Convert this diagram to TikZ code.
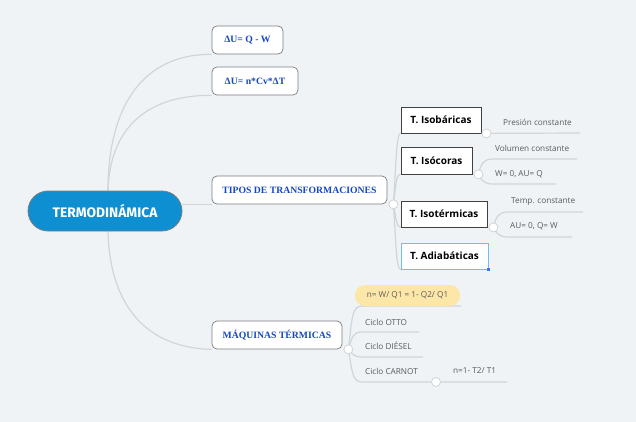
\documentclass[tikz,border=0pt]{standalone}
\usepackage{fontspec}
\setmainfont{Liberation Serif}
\newfontfamily\opensans{Open Sans}
\newfontfamily\firafont{Fira Sans}
\definecolor{bgc}{RGB}{239,243,246}
\definecolor{lnk}{RGB}{208,213,218}
\definecolor{mainblue}{RGB}{14,143,210}
\definecolor{txtblue}{RGB}{22,72,190}
\definecolor{leafgray}{RGB}{90,90,90}
\definecolor{pillc}{RGB}{253,231,168}
\definecolor{selblue}{RGB}{110,190,242}
\definecolor{boxgray}{RGB}{120,125,130}
\pgfdeclarelayer{back}
\pgfsetlayers{back,main}
\begin{document}
\begin{tikzpicture}[x=1pt,y=-1pt,
  link/.style={draw=lnk,line width=1.2pt},
  topbox/.style={draw=boxgray,fill=white,rounded corners=5pt,line width=0.7pt,inner sep=0pt,font=\bfseries\fontsize{9.7}{11}\selectfont,text=txtblue},
  subbox/.style={draw=black!75,fill=white,line width=0.8pt,inner sep=0pt,font=\opensans\bfseries\fontsize{10}{12}\selectfont},
  leaf/.style={anchor=west,inner sep=0pt,font=\opensans\fontsize{8.2}{10}\selectfont,text=leafgray},
  knob/.style={circle,draw=lnk,fill=white,line width=0.8pt,minimum size=9pt,inner sep=0pt},
]
\begin{pgfonlayer}{back}
\fill[bgc] (0,0) rectangle (636,422);
\end{pgfonlayer}
\useasboundingbox (0,0) rectangle (636,422);

% central node
\node[fill=mainblue,draw=boxgray,line width=0.8pt,rounded corners=20pt,minimum width=154pt,minimum height=40pt,inner sep=0pt,text=white,font=\firafont\bfseries\fontsize{13.8}{16}\selectfont] (c) at (105,211) {TERMODINÁMICA};

% main branches
\node[topbox,minimum width=71pt,minimum height=28pt] (a1) at (247.5,40) {ΔU= Q - W};
\node[topbox,minimum width=86pt,minimum height=28pt] (a2) at (255,81) {ΔU= n*Cv*ΔT};
\node[topbox,minimum width=175pt,minimum height=28pt] (a3) at (299.5,190) {TIPOS DE TRANSFORMACIONES};
\node[topbox,minimum width=130pt,minimum height=28pt] (a4) at (277,335) {MÁQUINAS TÉRMICAS};

% transformation boxes
\node[subbox,minimum width=80pt,minimum height=26pt] (b1) at (441,120) {T. Isobáricas};
\node[subbox,minimum width=71pt,minimum height=27pt] (b2) at (436.5,160.5) {T. Isócoras};
\node[subbox,minimum width=86pt,minimum height=26pt] (b3) at (444,214) {T. Isotérmicas};
\node[subbox,draw=selblue,minimum width=87pt,minimum height=26pt] (b4) at (444.5,256) {T. Adiabáticas};
\node[fill=selblue!60!blue,minimum size=3pt,inner sep=0pt] (hdl) at (b4.south east) {};

% knobs
\node[knob] (t1) at ([xshift=6pt]a3.south east) {};
\node[knob] (k1) at ([xshift=5pt]b1.south east) {};
\node[knob] (k2) at ([xshift=6pt]b2.south east) {};
\node[knob] (k3) at ([xshift=6pt]b3.south east) {};
\node[knob] (m1) at ([xshift=6pt]a4.south east) {};
\node[knob] (k4) at (436,382) {};

% leaves
\node[leaf] (l1) at (503,122) {Presión constante};
\node[leaf] (l21) at (495,148) {Volumen constante};
\node[leaf] (l22) at (495,174) {W= 0, AU= Q};
\node[leaf] (l31) at (511,202) {Temp. constante};
\node[leaf] (l32) at (510,226) {AU= 0, Q= W};
\node[fill=pillc,rounded corners=10pt,minimum width=105pt,minimum height=21pt,inner sep=0pt,font=\opensans\fontsize{8.2}{10}\selectfont,text=leafgray] (p1) at (407.5,295.5) {n= W/ Q1 = 1- Q2/ Q1};
\node[leaf] (m2) at (365,322) {Ciclo OTTO};
\node[leaf] (m3) at (365,346) {Ciclo DIÉSEL};
\node[leaf] (m4) at (365,371) {Ciclo CARNOT};
\node[leaf] (m5) at (453,371) {n=1- T2/ T1};

% free ends of underlines
\coordinate (e1) at (580,133);
\coordinate (e21) at (577,159);
\coordinate (e22) at (556,184);
\coordinate (e31) at (583,212);
\coordinate (e32) at (572,237);
\coordinate (ep) at (461,306);
\coordinate (e2) at (419,332);
\coordinate (e3) at (423,357);
\coordinate (e5) at (507,382);

\begin{pgfonlayer}{back}
\draw[link] ([xshift=3pt]c.north) .. controls (108,110) and (140,54) .. (a1.south west);
\draw[link] ([xshift=3pt]c.north) .. controls (110,125) and (150,95) .. (a2.south west);
\draw[link] (c.east |- a3.south) -- (a3.south west);
\draw[link] ([xshift=3pt]c.south) .. controls (110,310) and (150,348) .. (a4.south west);
\draw[link] (t1.center) .. controls (396,170) and (396,133) .. (b1.south west);
\draw[link] (t1.center) .. controls (396,186) and (396,174) .. (b2.south west);
\draw[link] (t1.center) .. controls (396,216) and (396,227) .. (b3.south west);
\draw[link] (t1.center) .. controls (396,240) and (396,269) .. (b4.south west);
\draw[link] (k1.center) -- (e1);
\draw[link] (k2.center) .. controls (481,163) and (484,159) .. (493,159) -- (e21);
\draw[link] (k2.center) .. controls (481,180) and (484,184) .. (493,184) -- (e22);
\draw[link] (k3.center) .. controls (496,216) and (499,212) .. (508,212) -- (e31);
\draw[link] (k3.center) .. controls (496,233) and (499,237) .. (508,237) -- (e32);
\draw[link] (m1.center) .. controls (352,318) and (352,306) .. (362,306) -- (ep);
\draw[link] (m1.center) .. controls (352,337) and (353,332) .. (362,332) -- (e2);
\draw[link] (m1.center) .. controls (352,353) and (353,357) .. (362,357) -- (e3);
\draw[link] (m1.center) .. controls (352,370) and (352,382) .. (362,382) -- (k4.center) -- (e5);
\end{pgfonlayer}
\end{tikzpicture}
\end{document}
